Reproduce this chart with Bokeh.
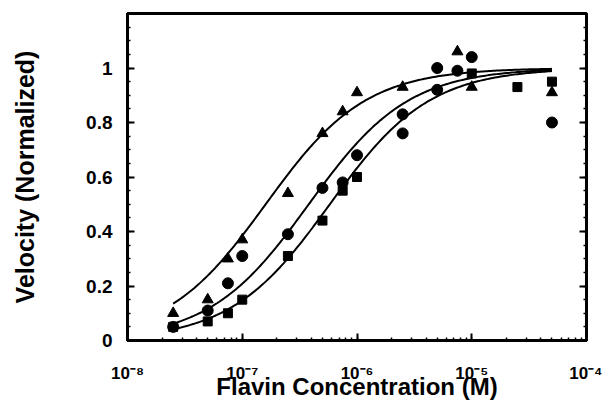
import numpy as np
from bokeh.plotting import figure
from bokeh.models import FixedTicker, LogTicker, LinearAxis, Range1d
from bokeh.embed import file_html
from bokeh.resources import INLINE

# ---- data ----
tri_x = [2.5e-8, 5e-8, 7.5e-8, 1e-7, 2.5e-7, 5e-7, 7.5e-7, 1e-6, 2.5e-6, 7.5e-6, 1e-5, 5e-5]
tri_y = [0.10, 0.15, 0.30, 0.37, 0.54, 0.76, 0.84, 0.91, 0.93, 1.06, 0.93, 0.91]

circ_x = [2.5e-8, 5e-8, 7.5e-8, 1e-7, 2.5e-7, 5e-7, 7.5e-7, 1e-6, 2.5e-6, 2.5e-6, 5e-6, 5e-6, 7.5e-6, 1e-5, 5e-5]
circ_y = [0.05, 0.11, 0.21, 0.31, 0.39, 0.56, 0.58, 0.68, 0.83, 0.76, 1.00, 0.92, 0.99, 1.04, 0.80]

sq_x = [2.5e-8, 5e-8, 7.5e-8, 1e-7, 2.5e-7, 5e-7, 7.5e-7, 1e-6, 1e-5, 2.5e-5, 5e-5]
sq_y = [0.05, 0.07, 0.10, 0.15, 0.31, 0.44, 0.55, 0.60, 0.98, 0.93, 0.95]

# fitted half-saturation constants (M) of the three fit curves
km_tri = 1.6e-7
km_circ = 3.8e-7
km_sq = 5.8e-7
fit_range = [2.5e-8, 5e-5]

x_ticks = [1e-8, 1e-7, 1e-6, 1e-5, 1e-4]
x_tick_labels = ["10\u207b\u2078", "10\u207b\u2077", "10\u207b\u2076", "10\u207b\u2075", "10\u207b\u2074"]
y_ticks = [0, 0.2, 0.4, 0.6, 0.8, 1.0]
y_tick_labels = ["0", "0.2", "0.4", "0.6", "0.8", "1"]

p = figure(width=602, height=402, x_axis_type="log",
           x_range=Range1d(1e-8, 1e-4), y_range=Range1d(0, 1.2),
           output_backend="svg", toolbar_location=None,
           min_border_left=127, min_border_right=16,
           min_border_top=13, min_border_bottom=62)
p.grid.visible = False
p.outline_line_color = "black"
p.outline_line_width = 3
p.background_fill_color = "white"
p.border_fill_color = "white"

# fit curves
xs = np.logspace(np.log10(fit_range[0]), np.log10(fit_range[1]), 200)
for km in (km_tri, km_circ, km_sq):
    p.line(xs, xs / (km + xs), line_color="black", line_width=2)

p.scatter(tri_x, tri_y, marker="triangle", size=11, color="black")
p.scatter(circ_x, circ_y, marker="circle", size=11, color="black")
p.scatter(sq_x, sq_y, marker="square", size=9, color="black")

font = "Liberation Sans"
minor_y = list(np.arange(0, 1.2, 0.05))
xa = p.xaxis[0]
xa.ticker = LogTicker(desired_num_ticks=5, num_minor_ticks=10)
xa.major_label_overrides = {t: l for t, l in zip(x_ticks, x_tick_labels)}
xa.axis_label = "Flavin Concentration (M)"
ya = p.yaxis[0]
ya.ticker = FixedTicker(ticks=y_ticks, minor_ticks=minor_y)
ya.major_label_overrides = {t: l for t, l in zip(y_ticks, y_tick_labels)}
ya.axis_label = "Velocity (Normalized)"

for ax in (xa, ya):
    ax.axis_line_width = 3
    ax.axis_line_color = "black"
    ax.major_tick_in = 7
    ax.major_tick_out = 0
    ax.minor_tick_in = 3
    ax.minor_tick_out = 0
    ax.major_tick_line_width = 2
    ax.minor_tick_line_width = 1.5
    ax.major_label_text_font = font
    ax.major_label_text_font_style = "bold"
    ax.major_label_text_color = "black"
    ax.axis_label_text_font = font
    ax.axis_label_text_color = "black"
    ax.axis_label_text_font_style = "bold"

xa.major_label_text_font_size = "17px"
xa.major_label_standoff = 23
xa.axis_label_standoff = -13
xa.axis_label_text_font_size = "24px"
ya.major_label_text_font_size = "19px"
ya.major_label_standoff = 15
ya.axis_label_standoff = 44
ya.axis_label_text_font_size = "25px"

ra = LinearAxis(ticker=FixedTicker(ticks=y_ticks, minor_ticks=minor_y),
                major_label_overrides={t: "" for t in y_ticks},
                major_label_text_font_size="1px", axis_line_width=3,
                major_tick_in=7, major_tick_out=0, minor_tick_in=3, minor_tick_out=0,
                major_tick_line_width=2, minor_tick_line_width=1.5)
p.add_layout(ra, "right")

open("out.html", "w").write(file_html(p, INLINE))
